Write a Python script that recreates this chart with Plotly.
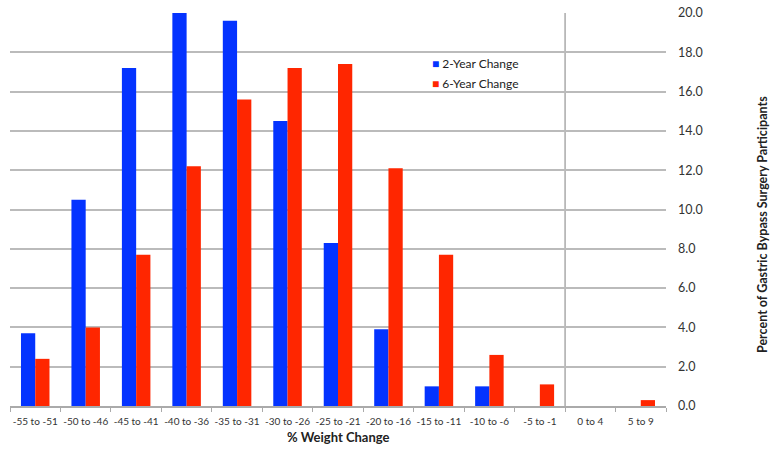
import plotly.graph_objects as go

categories = ["-55 to -51", "-50 to -46", "-45 to -41", "-40 to -36", "-35 to -31",
              "-30 to -26", "-25 to -21", "-20 to -16", "-15 to -11", "-10 to -6",
              "-5 to -1", "0 to 4", "5 to 9"]
two_year = [3.7, 10.5, 17.2, 20.0, 19.6, 14.5, 8.3, 3.9, 1.0, 1.0, 0.0, 0.0, 0.0]
six_year = [2.4, 4.0, 7.7, 12.2, 15.6, 17.2, 17.4, 12.1, 7.7, 2.6, 1.1, 0.0, 0.3]
y_ticks = [0, 2, 4, 6, 8, 10, 12, 14, 16, 18, 20]
series_names = ["2-Year Change", "6-Year Change"]
series_colors = ["#0433FF", "#FF2600"]

FONT = "Lato, Open Sans, sans-serif"

fig = go.Figure()
for name, values, color in zip(series_names, [two_year, six_year], series_colors):
    fig.add_trace(go.Bar(x=categories, y=values, name=name,
                         marker=dict(color=color, line=dict(width=0))))

# zero-change divider between the negative and positive bins
divider = categories.index("0 to 4") - 0.5
fig.add_shape(type="line", xref="x", yref="paper", x0=divider, x1=divider,
              y0=0, y1=1, line=dict(color="#aaaaaa", width=1.5), layer="below")

# compact legend: colour swatch right beside its label
legend_notes = []
for i, (name, color) in enumerate(zip(series_names, series_colors)):
    legend_notes.append(dict(
        text=f"<span style='color:{color}'>■</span> {name}",
        xref="paper", yref="paper", x=(430 - 10) / 656, y=(406 - 63 - 20 * i) / 393,
        xanchor="left", yanchor="middle", showarrow=False,
        font=dict(size=12, color="#222222", family=FONT)))

fig.update_layout(
    width=773, height=451,
    margin=dict(l=10, r=107, t=13, b=45),
    paper_bgcolor="white", plot_bgcolor="white",
    barmode="group", bargap=0.435, bargroupgap=0,
    font=dict(family=FONT, color="#333333"),
    showlegend=False,
    xaxis=dict(
        type="category", showgrid=False, showline=True, linecolor="#aaaaaa", linewidth=1.5,
        ticks="outside", tickson="boundaries", ticklen=4, tickcolor="#aaaaaa",
        tickfont=dict(size=10, color="#333333"), tickangle=0, zeroline=False,
        ticklabelstandoff=5,
        range=[-0.5, len(categories) - 0.5], automargin=False,
    ),
    yaxis=dict(
        side="right", range=[0, 20], tickvals=y_ticks,
        ticktext=[f"{v:.1f}" for v in y_ticks],
        showgrid=True, gridcolor="#bbbbbb", gridwidth=1.5,
        showline=False, zeroline=False, ticks="", ticklabelstandoff=11,
        tickfont=dict(size=12.5, color="#333333"), automargin=False,
    ),
    annotations=legend_notes + [
        dict(text="<b>% Weight Change</b>", xref="paper", yref="paper",
             x=0.5, y=-0.079, xanchor="center", yanchor="middle", showarrow=False,
             font=dict(size=13, color="#222222", family=FONT)),
        dict(text="<b>Percent of Gastric Bypass Surgery Participants</b>",
             xref="paper", yref="paper", x=(763 - 10) / 656, y=(406 - 225) / 393,
             xanchor="center", yanchor="middle", textangle=-90, showarrow=False,
             font=dict(size=12.5, color="#222222", family=FONT)),
    ],
)

fig.write_html("out.html")
